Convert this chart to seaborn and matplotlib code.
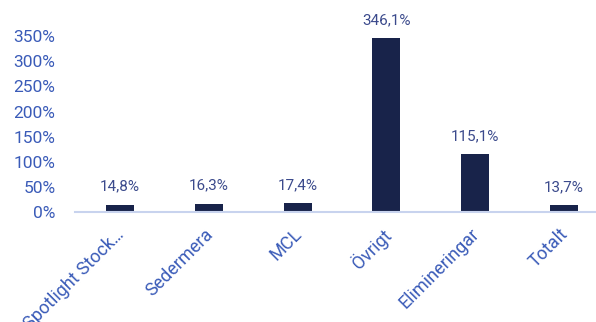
import matplotlib
matplotlib.use("Agg")
import matplotlib.pyplot as plt
import matplotlib.transforms as mtrans
import seaborn as sns
import pandas as pd
from matplotlib.ticker import FuncFormatter

categories = ["Spotlight Stock…", "Sedermera", "MCL", "Övrigt", "Elimineringar", "Totalt"]
values = [14.8, 16.3, 17.4, 346.1, 115.1, 13.7]
value_labels = ["14,8%", "16,3%", "17,4%", "346,1%", "115,1%", "13,7%"]
yticks = [0, 50, 100, 150, 200, 250, 300, 350]

sns.set_theme(style="white")
plt.rcParams['font.family'] = ['Roboto', 'DejaVu Sans']

df = pd.DataFrame({"cat": categories, "val": values})

fig = plt.figure(figsize=(5.96, 3.22), dpi=100)
ax = fig.add_axes([75/596, 1-212/322, 521/596, (212-10)/322])

sns.barplot(data=df, x="cat", y="val", color="#18234a", width=0.315,
            saturation=1, ax=ax, edgecolor="none")

ax.set_xlim(-0.507, 5.36)
ax.set_ylim(0, 402)
ax.set_yticks(yticks)
ax.yaxis.set_major_formatter(FuncFormatter(lambda v, p: f"{int(v)}%"))
ax.set_xlabel("")
ax.set_ylabel("")

for s in ["top", "right", "left"]:
    ax.spines[s].set_visible(False)
ax.spines["bottom"].set_color("#c8d3ee")
ax.spines["bottom"].set_linewidth(1.5)

ax.tick_params(axis="y", colors="#3a5bb8", labelsize=12.5, length=0, pad=14)
ax.tick_params(axis="x", colors="#3a5bb8", labelsize=13, length=0, pad=6)
offset = mtrans.ScaledTranslation(-5/100, -5/100, fig.dpi_scale_trans)
for lbl in ax.get_xticklabels():
    lbl.set_rotation(45)
    lbl.set_ha("right")
    lbl.set_rotation_mode("anchor")
    lbl.set_transform(lbl.get_transform() + offset)
for lbl in ax.get_yticklabels():
    lbl.set_color("#3a5bb8")

for i, (v, t) in enumerate(zip(values, value_labels)):
    ax.annotate(t, (i, v), xytext=(0, 8), textcoords="offset points",
                ha="center", va="bottom", fontsize=11, color="#3b4a8c")

fig.savefig("out.png", dpi=100)
